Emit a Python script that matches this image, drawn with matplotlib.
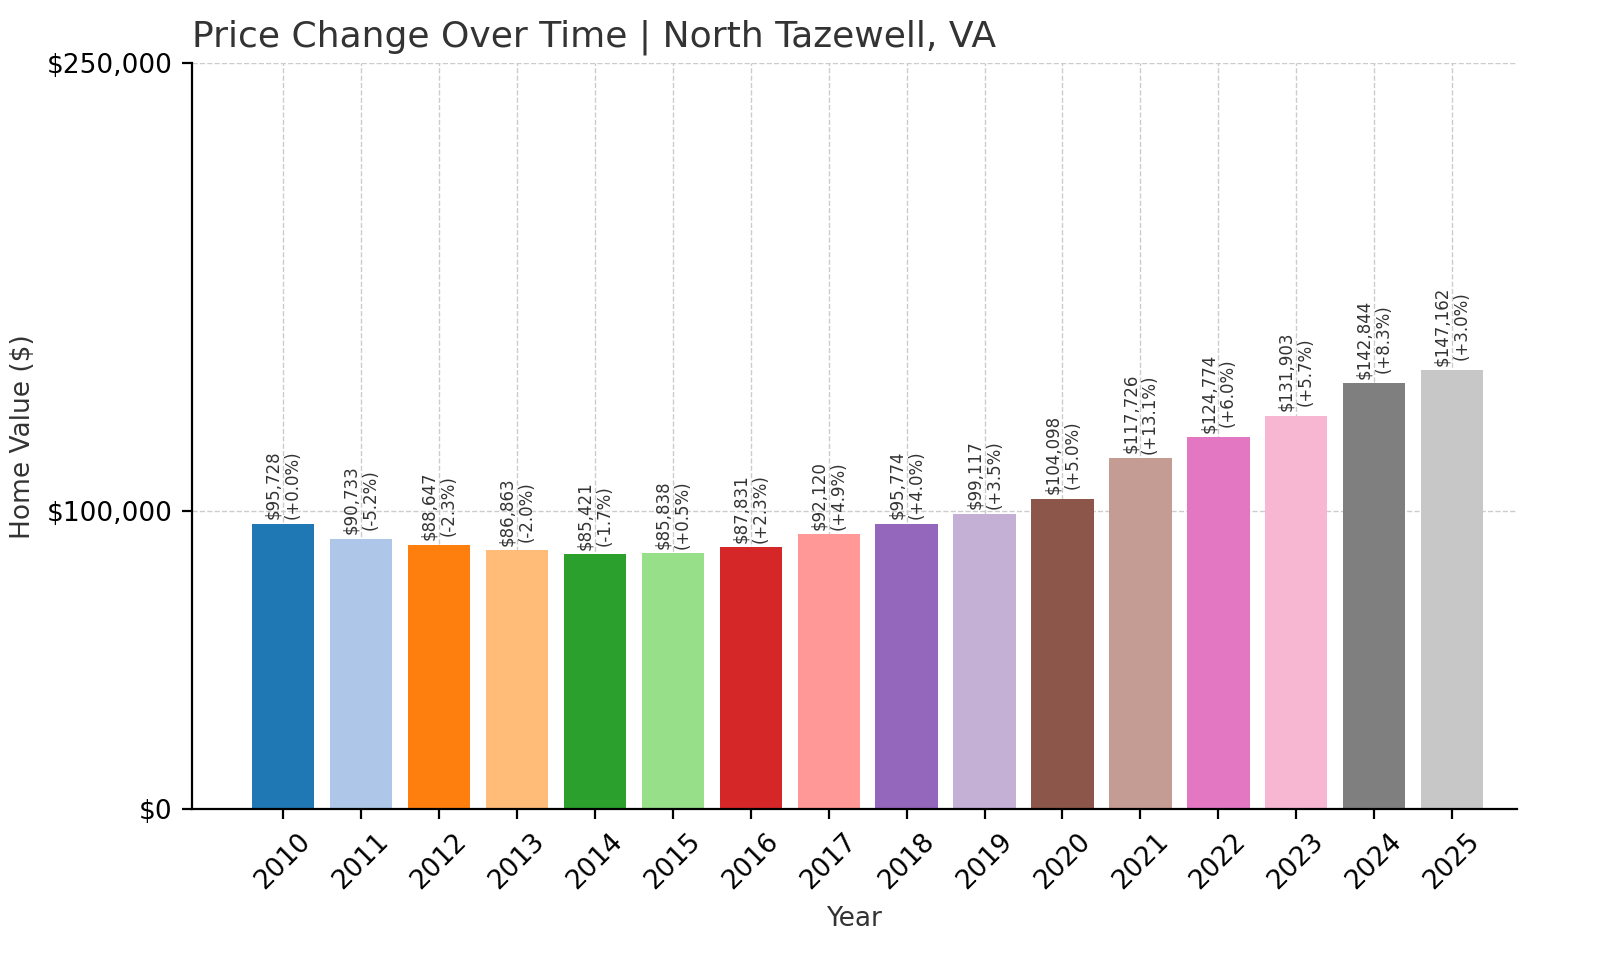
import matplotlib
matplotlib.use('Agg')
import matplotlib.pyplot as plt
import numpy as np

years = [2010, 2011, 2012, 2013, 2014, 2015, 2016, 2017,
         2018, 2019, 2020, 2021, 2022, 2023, 2024, 2025]
values = [95728, 90733, 88647, 86863, 85421, 85838, 87831, 92120,
          95774, 99117, 104098, 117726, 124774, 131903, 142844, 147162]
pct = ['+0.0%', '-5.2%', '-2.3%', '-2.0%', '-1.7%', '+0.5%', '+2.3%', '+4.9%',
       '+4.0%', '+3.5%', '+5.0%', '+13.1%', '+6.0%', '+5.7%', '+8.3%', '+3.0%']
yticks = [0, 100000, 250000]
ytick_labels = ['$0', '$100,000', '$250,000']

colors = plt.get_cmap('tab20').colors

fig = plt.figure(figsize=(8, 4.8), dpi=200)
ax = fig.add_axes([0.12, 0.157, 0.828, 0.777])
x = np.arange(len(years))
ax.bar(x, values, width=0.8, color=colors[:len(years)], zorder=2)

for xi, v, p in zip(x, values, pct):
    ax.text(xi, v + 1500, f'${v:,}\n({p})', rotation=90, ha='center',
            va='bottom', fontsize=6, color='#333333', linespacing=1.1)

ax.set_xlim(-1.17, 15.83)
ax.set_ylim(0, 250000)
ax.set_xticks(x)
ax.set_xticklabels([str(y) for y in years], rotation=45, fontsize=9.5)
ax.set_yticks(yticks)
ax.set_yticklabels(ytick_labels, fontsize=9.5)
ax.grid(True, linestyle='--', linewidth=0.5, color='#cccccc', zorder=0)
ax.spines['top'].set_visible(False)
ax.spines['right'].set_visible(False)
ax.set_xlabel('Year', fontsize=9.5, color='#333333')
ax.set_ylabel('Home Value ($)', fontsize=9.5, color='#333333')
ax.set_title('Price Change Over Time | North Tazewell, VA', loc='left',
             fontsize=13, color='#333333')

fig.savefig('out.png')
